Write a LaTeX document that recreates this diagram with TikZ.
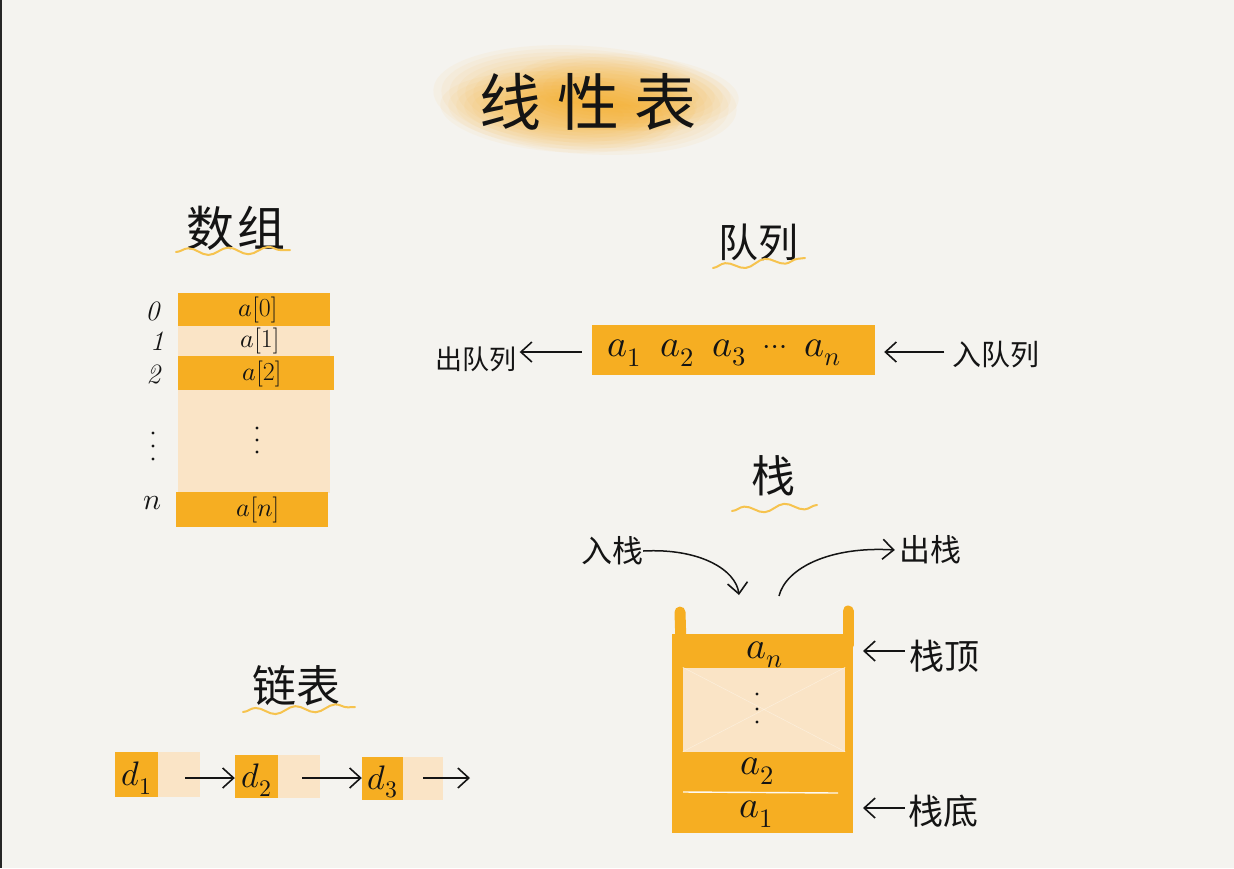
\documentclass[tikz,border=0pt]{standalone}
\usepackage{fontspec}
\usepackage{unicode-math}
\newfontfamily\cjk{Noto Sans CJK SC}
\usetikzlibrary{arrows.meta,decorations.pathmorphing,calc}
\definecolor{paper}{HTML}{F4F3EF}
\definecolor{amber}{HTML}{F6AE22}
\definecolor{peach}{HTML}{FAE4C6}
\definecolor{wave}{HTML}{F6C34E}
\definecolor{ink}{HTML}{141414}
\tikzset{
  hz/.style={font=\cjk\fontsize{#1}{#1}\selectfont, text=ink, inner sep=0pt},
  lat/.style={font=\fontsize{#1}{#1}\selectfont, text=ink, inner sep=0pt},
  darkcell/.style={fill=amber, draw=none, inner sep=0pt},
  lightcell/.style={fill=peach, draw=none, inner sep=0pt},
  arr/.style={-{Straight Barb[length=11pt,width=20pt,line width=1.6pt]}, line width=1.5pt, draw=ink},
  wavy/.style={draw=wave, line width=2pt, line cap=round, decorate,
    decoration={snake, amplitude=3.5pt, segment length=40pt}},
  dot/.style={fill=ink}
}
\begin{document}
\begin{tikzpicture}[x=1pt,y=-1pt]
\useasboundingbox (0,0) rectangle (1234,868);
\fill[paper] (0,0) rectangle (1234,868);
\draw[line width=2pt, black!85] (1,0) -- (1,868);

% ---------- title with soft brush stroke ----------
\foreach \cx/\cy/\rx/\ry in {585/100/152/54, 560/112/120/40, 625/92/114/38, 600/104/95/26}{
  \foreach \i in {0,...,7}{
    \fill[amber, fill opacity=0.05, rotate around={-4:(\cx,\cy)}]
      (\cx,\cy) ellipse ({\rx-8*\i} and {\ry-3.5*\i});
  }
}
\node[hz=62] (title) at (588,102) {线\hspace{16pt}性\hspace{16pt}表};

% ---------- array ----------
\node[hz=48] (arrhead) at (236,228) {数\hspace{4pt}组};
\draw[wavy] (176,252) -- (290,250);

\node[lightcell, minimum width=152pt, minimum height=30pt] (a1) at (254,341) {};
\node[lightcell, minimum width=152pt, minimum height=104pt] (agap) at (254,441) {};
\node[darkcell, minimum width=152pt, minimum height=33pt] (a0) at (254,309.5) {};
\node[darkcell, minimum width=156pt, minimum height=34pt] (a2) at (256,373) {};
\node[darkcell, minimum width=152pt, minimum height=35pt] (an) at (252,509.5) {};
\node[lat=26] (ta0) at (258,310) {$a$[0]};
\node[lat=26] (ta1) at (260,341) {$a$[1]};
\node[lat=26] (ta2) at (262,374) {$a$[2]};
\node[lat=26] (tan) at (258,510) {$a$[$n$]};
\foreach \y in {428,440,452} \fill[dot] (257,\y) circle (1.7pt);

\node[lat=28] (i0) at (153,311) {\textit{0}};
\node[lat=28] (i1) at (157,341) {\textit{1}};
\node[lat=28] (i2) at (154,374) {\textit{2}};
\node[lat=30] (in) at (152,503) {$n$};
\foreach \y in {433,446,459} \fill[dot] (153,\y) circle (1.7pt);

% ---------- queue ----------
\node[hz=40] (qhead) at (758,242) {队列};
\draw[wavy] (713,268) -- (805,258);

\node[darkcell, minimum width=283pt, minimum height=50pt] (queue) at (733.5,350) {};
\node[lat=38] (q1) at (624,353) {$a_1$};
\node[lat=38] (q2) at (677,353) {$a_2$};
\node[lat=38] (q3) at (729,353) {$a_3$};
\node[lat=30] (qd) at (775,350) {$\cdots$};
\node[lat=38] (qn) at (823,353) {$a_n$};

\node[hz=27] (dequeue) at (476,359) {出队列};
\node[hz=29] (enqueue) at (996,355) {入队列};
\draw[arr] ([xshift=-10pt,yshift=-2pt]queue.west) -- ([xshift=3pt]dequeue.east |- 0,352);
\draw[arr] ([xshift=-8pt]enqueue.west |- 0,352) -- ([xshift=9pt,yshift=-2pt]queue.east);

% ---------- stack ----------
\node[hz=44] (shead) at (773,476) {栈};
\draw[wavy] (732,511) -- (817,505);

\draw[amber, line width=11pt, line cap=round] (680,612) -- (681,645);
\draw[amber, line width=11pt, line cap=round] (848,611) -- (848,645);
\node[darkcell, minimum width=181pt, minimum height=199pt] (stack) at (762.5,733.5) {};
\node[lightcell, minimum width=162pt, minimum height=84pt] (sgap) at (764,709.5) {};
\draw[white!40!peach, line width=0.5pt] (sgap.north west) -- (sgap.south east)
  (sgap.north east) -- (sgap.south west);
\draw[white!80!peach, line width=1.4pt] (683,792) -- (838,793);
\node[lat=38] (sn) at (765,655) {$a_n$};
\node[lat=38] (s2) at (757,771) {$a_2$};
\node[lat=38] (s1) at (756,814) {$a_1$};
\foreach \y in {694,709,722} \fill[dot] (757,\y) circle (1.7pt);

\node[hz=31] (push) at (612,551) {入栈};
\node[hz=31] (pop) at (930,550) {出栈};
\coordinate (pushend) at (739,595);
\coordinate (popstart) at (779,596);
\draw[arr] (push.east) .. controls (700,548) and (736,570) .. (pushend);
\draw[arr] (popstart) .. controls (786,568) and (830,546) .. ([xshift=-4pt]pop.west);

\node[hz=35] (top) at (944,656) {栈顶};
\node[hz=35] (bottom) at (943,811) {栈底};
\draw[arr] ([xshift=-4pt]top.west |- 0,651) -- (863,651);
\draw[arr] ([xshift=-3pt]bottom.west |- 0,808) -- (863,808);

% ---------- linked list ----------
\node[hz=44] (lhead) at (296,686) {链表};
\draw[wavy] (243,712) -- (355,707);

\node[lightcell, minimum width=42pt, minimum height=45pt] (l1) at (179,774.5) {};
\node[darkcell, minimum width=43pt, minimum height=45pt] (d1) at (136.5,774.5) {};
\node[lightcell, minimum width=42pt, minimum height=43pt] (l2) at (299,776.5) {};
\node[darkcell, minimum width=43pt, minimum height=43pt] (d2) at (256.5,776.5) {};
\node[lightcell, minimum width=40pt, minimum height=43pt] (l3) at (423,778) {};
\node[darkcell, minimum width=41pt, minimum height=43pt] (d3) at (382.5,778.5) {};
\node[lat=34] (td1) at (137,778) {$d_1$};
\node[lat=34] (td2) at (257,780) {$d_2$};
\node[lat=34] (td3) at (383,782) {$d_3$};
\coordinate (tail) at (470,778);
\draw[arr] ([xshift=6pt]l1.center |- 0,778) -- (d2.west |- 0,778);
\draw[arr] ([xshift=3pt]l2.center |- 0,778) -- (d3.west |- 0,778);
\draw[arr] (l3.center |- 0,778) -- (tail);
\end{tikzpicture}
\end{document}
